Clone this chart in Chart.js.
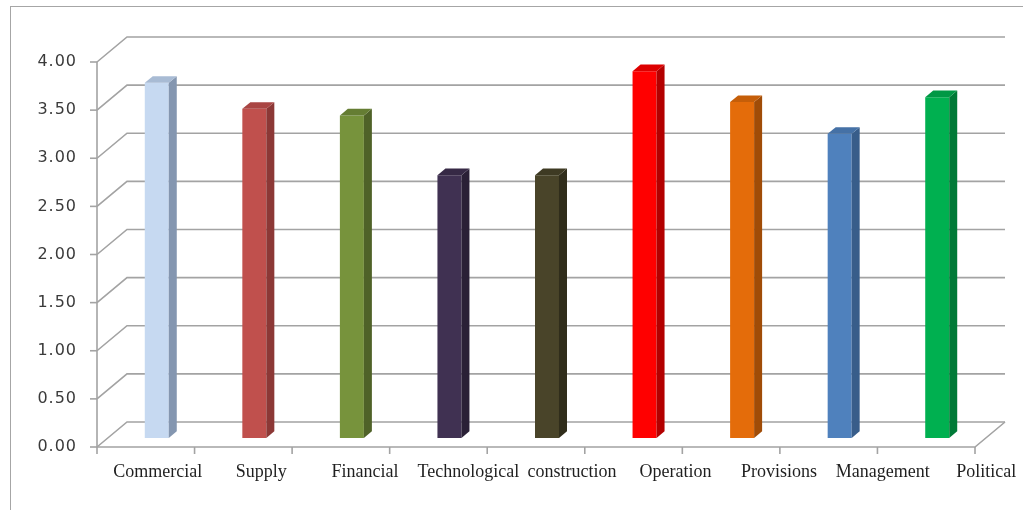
<!DOCTYPE html>
<html><head><meta charset="utf-8">
<script src="https://cdn.jsdelivr.net/npm/chart.js@4.4.0/dist/chart.umd.min.js"></script>
<style>
html,body{margin:0;padding:0;background:#fff;overflow:hidden}
#wrap{position:relative;width:1023px;height:510px}
#frame{position:absolute;left:10px;top:6px;right:-2px;bottom:-2px;border-left:1px solid #a6a6a6;border-top:1px solid #a6a6a6;pointer-events:none}
canvas{position:absolute;left:0;top:0}
</style></head><body>
<div id="wrap"><canvas id="c" width="1023" height="510"></canvas><div id="frame"></div></div>
<script>
const categories = ['Commercial','Supply','Financial','Technological','construction','Operation','Provisions','Management','Political'];
const values = [3.69, 3.42, 3.35, 2.73, 2.73, 3.81, 3.49, 3.16, 3.54];
const yTickLabels = ['0.00','0.50','1.00','1.50','2.00','2.50','3.00','3.50','4.00'];
const frontColors = ['#C6D9F1','#C0504D','#77933C','#403152','#494429','#FF0000','#E46C0A','#4F81BD','#00B050'];
const sideColors  = ['#8496B0','#8C3836','#4F6228','#2A2036','#302D1B','#B30000','#A04C07','#385D8A','#007A37'];

// 3D projection offsets relative to the bar plane
const FRONT = {dx: -11, dy: 9};
const BACK = {dx: 19, dy: -16};
const DEPTH = {dx: 8, dy: -6.7};
const GRID = '#a3a3a3';

function mix(a, b, t) {
  const pa = [1,3,5].map(i => parseInt(a.substr(i,2),16));
  const pb = [1,3,5].map(i => parseInt(b.substr(i,2),16));
  return 'rgb(' + pa.map((v,i) => Math.round(v*(1-t)+pb[i]*t)).join(',') + ')';
}

const walls = {
  id: 'walls',
  beforeDraw(chart) { chart.ctx.letterSpacing = '1px'; },
  beforeDatasetsDraw(chart) {
    const ctx = chart.ctx;
    ctx.letterSpacing = '0px';
    const x = chart.scales.x, y = chart.scales.y, a = chart.chartArea;
    ctx.save();
    ctx.strokeStyle = GRID;
    ctx.lineWidth = 1.6;
    y.ticks.forEach(t => {
      const yp = y.getPixelForValue(t.value);
      ctx.beginPath();
      ctx.moveTo(a.left + FRONT.dx, yp + FRONT.dy);
      ctx.lineTo(a.left + BACK.dx, yp + BACK.dy);
      ctx.lineTo(a.right + BACK.dx, yp + BACK.dy);
      ctx.stroke();
      ctx.beginPath();
      ctx.moveTo(a.left + FRONT.dx - 7, yp + FRONT.dy);
      ctx.lineTo(a.left + FRONT.dx, yp + FRONT.dy);
      ctx.stroke();
    });
    const y0 = y.getPixelForValue(0), yTop = y.getPixelForValue(y.max);
    ctx.beginPath();
    ctx.moveTo(a.left + FRONT.dx, yTop + FRONT.dy);
    ctx.lineTo(a.left + FRONT.dx, y0 + FRONT.dy);
    ctx.lineTo(a.right + FRONT.dx, y0 + FRONT.dy);
    ctx.lineTo(a.right + BACK.dx, y0 + BACK.dy);
    ctx.stroke();
    const n = categories.length;
    const cw = (a.right - a.left) / n;
    for (let i = 0; i <= n; i++) {
      const px = x.getPixelForValue(0) - cw / 2 + i * cw + FRONT.dx;
      ctx.beginPath();
      ctx.moveTo(px, y0 + FRONT.dy);
      ctx.lineTo(px, y0 + FRONT.dy + 7);
      ctx.stroke();
    }
    ctx.restore();
  },
  afterDatasetsDraw(chart) {
    const ctx = chart.ctx;
    const meta = chart.getDatasetMeta(0);
    ctx.save();
    meta.data.forEach((bar, i) => {
      const p = bar.getProps(['x','y','base','width'], true);
      const l = p.x - p.width / 2, r = p.x + p.width / 2;
      ctx.fillStyle = sideColors[i];
      ctx.beginPath();
      ctx.moveTo(r, p.y);
      ctx.lineTo(r + DEPTH.dx, p.y + DEPTH.dy);
      ctx.lineTo(r + DEPTH.dx, p.base + DEPTH.dy);
      ctx.lineTo(r, p.base);
      ctx.closePath();
      ctx.fill();
      ctx.fillStyle = mix(frontColors[i], sideColors[i], 0.45);
      ctx.beginPath();
      ctx.moveTo(l, p.y);
      ctx.lineTo(l + DEPTH.dx, p.y + DEPTH.dy);
      ctx.lineTo(r + DEPTH.dx, p.y + DEPTH.dy);
      ctx.lineTo(r, p.y);
      ctx.closePath();
      ctx.fill();
    });
    // category labels
    const x = chart.scales.x, y = chart.scales.y;
    const y0 = y.getPixelForValue(0);
    ctx.font = '18px "Liberation Serif", "Times New Roman", serif';
    ctx.fillStyle = '#1f1f1f';
    ctx.textAlign = 'center';
    ctx.textBaseline = 'middle';
    categories.forEach((c, i) => {
      const px = x.getPixelForValue(i) + 25 + 6.0 * (i - 4);
      ctx.fillText(c, px, y0 + 34);
    });
    ctx.restore();
  }
};

new Chart(document.getElementById('c'), {
  type: 'bar',
  data: {
    labels: categories,
    datasets: [{
      data: values,
      backgroundColor: frontColors,
      borderWidth: 0,
      barPercentage: 0.246,
      categoryPercentage: 1
    }]
  },
  options: {
    responsive: false,
    devicePixelRatio: 1,
    animation: false,
    layout: { padding: { left: 0, top: 53, right: 37, bottom: 72 } },
    plugins: { legend: { display: false }, tooltip: { enabled: false } },
    scales: {
      x: { display: false, offset: true, grid: { display: false } },
      y: {
        min: 0, max: 4,
        afterFit(s) { s.width = 108; },
        border: { display: false },
        grid: { display: false, drawTicks: false },
        ticks: {
          stepSize: 0.5,
          padding: 31,
          labelOffset: 9,
          color: '#3a3a3a',
          font: { family: '"DejaVu Sans", Verdana, sans-serif', size: 16 },
          callback: (v, i) => yTickLabels[i]
        }
      }
    }
  },
  plugins: [walls]
});
</script>
</body></html>
